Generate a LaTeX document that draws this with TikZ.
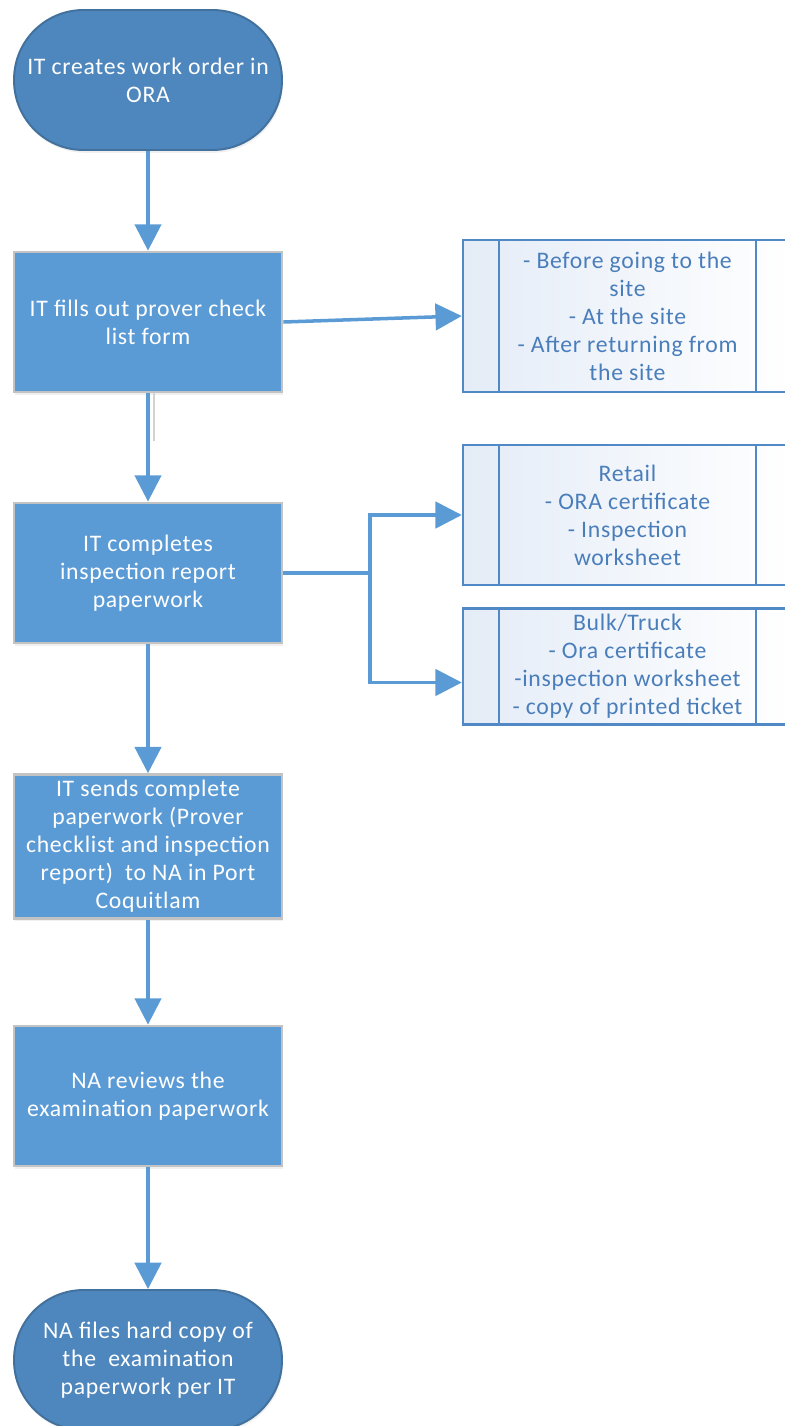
\documentclass[tikz,border=0pt]{standalone}
\usepackage{fontspec}
\setmainfont{Carlito}[LetterSpace=3]
\usetikzlibrary{arrows.meta,shadows}
\definecolor{termfill}{HTML}{4E86BE}
\definecolor{termline}{HTML}{41719C}
\definecolor{procfill}{HTML}{5B9BD5}
\definecolor{procline}{HTML}{C3C3C3}
\definecolor{flow}{HTML}{5B9BD5}
\definecolor{subline}{HTML}{5089C6}
\definecolor{subtext}{HTML}{4A7EBB}
\definecolor{subfill}{HTML}{E4ECF7}
\definecolor{stub}{HTML}{D2D2D2}
\begin{document}
\begin{tikzpicture}[x=0.02cm,y=-0.02cm,
  txt/.style={font=\fontsize{13.5}{15.9}\selectfont, align=center},
  softshadow/.style={drop shadow={opacity=0.12, shadow xshift=0.6pt, shadow yshift=-1.6pt}},
  term/.style={txt, text=white, fill=termfill, draw=termline, line width=1.1pt,
    rounded corners=1.39cm, minimum width=5.36cm, minimum height=2.8cm, softshadow},
  proc/.style={txt, text=white, fill=procfill, draw=procline, line width=1.6pt,
    minimum width=5.36cm, minimum height=2.8cm, softshadow},
  subproc/.style={txt, text=subtext, draw=subline, line width=1.4pt,
    left color=subfill, right color=white, minimum width=6.58cm},
  flowline/.style={draw=flow, line width=2pt},
  flowarrow/.style={flowline, -{Triangle[length=15pt,width=15pt]}}]
\useasboundingbox (0,0) rectangle (784,1426);

% main column
\node[term] (start) at (148,80) {IT creates work order in\\ORA};
\node[proc] (fill) at (148,322) {IT fills out prover check\\list form};
\node[proc] (complete) at (148,573) {IT completes\\inspection report\\paperwork};
\node[proc] (send) at (148,846.5) {IT sends complete\\paperwork (Prover\\checklist and inspection\\report)\ \ to NA in Port\\Coquitlam};
\node[proc] (review) at (148,1096) {NA reviews the\\examination paperwork};
\node[term] (finish) at (148,1360) {NA files hard copy of\\the\ \ examination\\paperwork per IT};

% side boxes
\node[subproc, minimum height=3.04cm] (steps) at (627.5,316)
  {- Before going to the\\site\\- At the site\\- After returning from\\the site};
\node[subproc, minimum height=2.8cm] (retail) at (627.5,515)
  {Retail\\- ORA certificate\\- Inspection\\worksheet};
\node[subproc, minimum height=2.22cm] (bulk) at (627.5,666.5)
  {Bulk/Truck\\- Ora certificate\\-inspection worksheet\\- copy of printed ticket};
\foreach \b in {steps,retail,bulk}{
  \draw[subline, line width=1.4pt] ([xshift=0.74cm]\b.north west) -- ([xshift=0.74cm]\b.south west);
  \draw[subline, line width=1.4pt] ([xshift=-0.74cm]\b.north east) -- ([xshift=-0.74cm]\b.south east);
}

% connectors
\draw[flowarrow] (start) -- (fill);
\draw[stub, line width=1.6pt] ([xshift=0.12cm]fill.south) -- ++(0,48);
\draw[flowarrow] (fill) -- (complete);
\draw[flowarrow] (fill.east) -- (steps.west);
\draw[flowarrow] (complete) -- (send);
\draw[flowarrow] (send) -- (review);
\draw[flowarrow] (review) -- (finish);

\coordinate (split) at (370,573);
\draw[flowline] (complete.east) -- (split);
\draw[flowarrow] (split) |- (retail.west);
\draw[flowarrow] (split) |- ([yshift=-0.32cm]bulk.west);
\end{tikzpicture}
\end{document}
